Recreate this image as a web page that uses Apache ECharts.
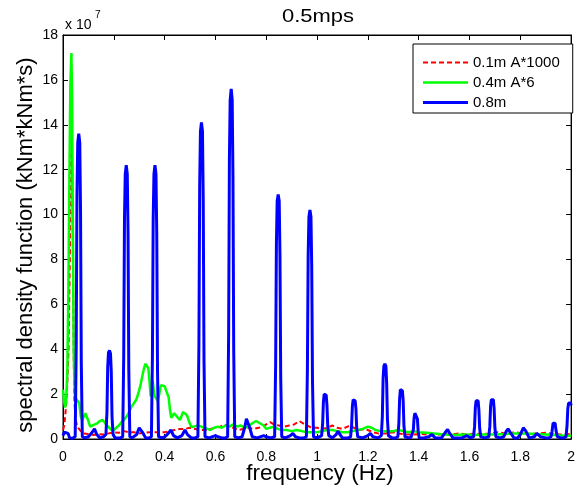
<!DOCTYPE html>
<html>
<head>
<meta charset="utf-8">
<script src="https://cdn.jsdelivr.net/npm/echarts@6/dist/echarts.min.js"></script>
<style>
  html, body { margin: 0; padding: 0; background: #fff; }
  #chart { width: 578px; height: 490px; }
</style>
</head>
<body>
<div id="chart"></div>
<script>
// Spectral density values are in units of 1e7 (kNm*kNm*s); frequency in Hz.
const seriesNames = ['0.1m A*1000', '0.4m A*6', '0.8m'];

const red01m = [
  [0, 0.4], [0.005, 0.6], [0.01, 1.2], [0.016, 2.2], [0.022, 4], [0.027, 8], [0.031, 12],
  [0.035, 13.8], [0.038, 10], [0.041, 5], [0.044, 2], [0.048, 1.0], [0.053, 0.7],
  [0.06, 0.5], [0.07, 0.35], [0.08, 0.25], [0.1, 0.22], [0.12, 0.18], [0.14, 0.22], [0.16, 0.2],
  [0.18, 0.25], [0.2, 0.3], [0.22, 0.28], [0.24, 0.35], [0.26, 0.3], [0.28, 0.3],
  [0.3, 0.25], [0.32, 0.28], [0.34, 0.3], [0.36, 0.3], [0.38, 0.3], [0.4, 0.3],
  [0.42, 0.35], [0.44, 0.4], [0.46, 0.45], [0.48, 0.45], [0.5, 0.5], [0.52, 0.45],
  [0.54, 0.4], [0.56, 0.4], [0.58, 0.45], [0.6, 0.5], [0.62, 0.55], [0.635, 0.65],
  [0.65, 0.55], [0.67, 0.5], [0.69, 0.4], [0.71, 0.45], [0.73, 0.5], [0.75, 0.45],
  [0.77, 0.5], [0.785, 0.55], [0.8, 0.65], [0.815, 0.75], [0.83, 0.65], [0.85, 0.6],
  [0.87, 0.55], [0.89, 0.6], [0.91, 0.65], [0.93, 0.8], [0.945, 0.7], [0.96, 0.6],
  [0.98, 0.5], [1.0, 0.5], [1.02, 0.45], [1.04, 0.5], [1.06, 0.6], [1.08, 0.5],
  [1.1, 0.45], [1.12, 0.55], [1.13, 0.6], [1.145, 0.5], [1.165, 0.4], [1.19, 0.45],
  [1.22, 0.3], [1.24, 0.25], [1.27, 0.25], [1.3, 0.3], [1.32, 0.25], [1.35, 0.2],
  [1.38, 0.2], [1.41, 0.22], [1.44, 0.2], [1.47, 0.2], [1.5, 0.22], [1.53, 0.2],
  [1.56, 0.25], [1.59, 0.2], [1.62, 0.25], [1.65, 0.22], [1.68, 0.25], [1.71, 0.3],
  [1.74, 0.25], [1.78, 0.3], [1.81, 0.25], [1.84, 0.22], [1.87, 0.25], [1.9, 0.28],
  [1.93, 0.22], [1.96, 0.2], [2.0, 0.22]
];

const green04m = [
  [0, 2.2], [0.004, 1.7], [0.008, 1.4], [0.012, 1.6], [0.017, 3], [0.021, 6.5], [0.025, 11.5],
  [0.029, 15.8], [0.033, 17.2], [0.036, 15], [0.039, 9], [0.042, 4], [0.046, 2.0],
  [0.05, 1.8], [0.057, 1.7], [0.064, 1.6], [0.07, 1.0], [0.076, 0.85], [0.082, 1.0],
  [0.088, 1.15], [0.094, 1.15], [0.1, 0.8], [0.107, 0.55], [0.115, 0.6], [0.125, 0.65],
  [0.135, 0.7], [0.145, 0.8], [0.155, 0.85], [0.163, 0.75], [0.172, 0.6], [0.182, 0.5],
  [0.192, 0.4], [0.2, 0.4], [0.21, 0.5], [0.22, 0.6], [0.23, 0.75], [0.24, 0.85],
  [0.25, 1.0], [0.26, 1.2], [0.27, 1.45], [0.28, 1.6], [0.29, 1.8], [0.298, 2.1],
  [0.305, 2.4], [0.312, 2.8], [0.318, 3.1], [0.324, 3.35], [0.33, 3.3], [0.336, 3.15],
  [0.341, 2.5], [0.345, 1.9], [0.349, 2.3], [0.353, 2.6], [0.357, 2.2], [0.361, 1.9],
  [0.367, 1.8], [0.373, 1.7], [0.379, 2.0], [0.385, 2.4], [0.392, 2.45], [0.4, 2.35],
  [0.408, 2.1], [0.416, 1.85], [0.421, 1.3], [0.426, 0.95], [0.432, 1.0], [0.438, 1.15],
  [0.445, 1.2], [0.452, 0.95], [0.46, 0.85], [0.466, 1.0], [0.472, 1.2], [0.478, 1.25],
  [0.484, 1.1], [0.49, 1.0], [0.497, 0.75], [0.505, 0.55], [0.515, 0.55], [0.53, 0.6],
  [0.545, 0.55], [0.555, 0.5], [0.57, 0.45], [0.58, 0.4], [0.595, 0.5], [0.61, 0.55],
  [0.625, 0.5], [0.64, 0.6], [0.655, 0.55], [0.67, 0.65], [0.685, 0.55], [0.7, 0.6],
  [0.715, 0.5], [0.73, 0.55], [0.745, 0.7], [0.76, 0.8], [0.775, 0.7], [0.79, 0.6],
  [0.8, 0.45], [0.815, 0.5], [0.83, 0.55], [0.845, 0.45], [0.86, 0.4], [0.88, 0.4],
  [0.9, 0.35], [0.92, 0.4], [0.94, 0.35], [0.96, 0.3], [0.98, 0.3], [1.0, 0.3],
  [1.02, 0.35], [1.04, 0.4], [1.06, 0.4], [1.08, 0.35], [1.1, 0.3], [1.12, 0.3],
  [1.14, 0.35], [1.16, 0.4], [1.18, 0.45], [1.2, 0.55], [1.215, 0.5], [1.23, 0.4],
  [1.25, 0.35], [1.27, 0.35], [1.3, 0.35], [1.32, 0.4], [1.34, 0.35], [1.36, 0.3],
  [1.38, 0.35], [1.4, 0.3], [1.43, 0.28], [1.46, 0.25], [1.5, 0.2], [1.54, 0.18],
  [1.58, 0.2], [1.62, 0.18], [1.66, 0.2], [1.7, 0.2], [1.74, 0.22], [1.78, 0.25],
  [1.82, 0.25], [1.86, 0.22], [1.9, 0.2], [1.94, 0.18], [1.97, 0.15], [2.0, 0.15]
];

const blue08m = [
  [0, 0.15], [0.005, 0.3], [0.012, 0.35], [0.02, 0.25], [0.026, 0.05], [0.036, 0.03],
  [0.048, 0.1], [0.052, 4.1], [0.055, 10.9], [0.058, 13.2], [0.062, 13.6], [0.066, 13.2], [0.069, 10.2], [0.072, 3.4], [0.076, 0.1],
  [0.085, 0.05], [0.1, 0.1], [0.115, 0.3], [0.124, 0.45], [0.133, 0.2], [0.145, 0.05], [0.16, 0.1],
  [0.169, 0.2], [0.173, 1.2], [0.176, 3.2], [0.179, 3.85], [0.183, 3.95], [0.187, 3.8], [0.19, 3.0], [0.193, 1.0], [0.197, 0.2],
  [0.205, 0.05], [0.225, 0.05],
  [0.235, 0.1], [0.239, 3.7], [0.242, 9.8], [0.245, 11.8], [0.249, 12.2], [0.253, 11.8], [0.256, 9.2], [0.259, 3.1], [0.263, 0.1],
  [0.272, 0.05], [0.29, 0.2], [0.3, 0.5], [0.306, 0.55], [0.313, 0.3], [0.325, 0.05], [0.34, 0.05],
  [0.348, 0.1], [0.352, 3.7], [0.355, 9.8], [0.358, 11.8], [0.362, 12.2], [0.366, 11.8], [0.369, 9.2], [0.372, 3.1], [0.376, 0.1],
  [0.39, 0.05], [0.4, 0.1], [0.41, 0.2], [0.425, 0.4], [0.435, 0.15], [0.45, 0.05], [0.468, 0.15],
  [0.48, 0.4], [0.49, 0.2], [0.505, 0.05], [0.52, 0.05],
  [0.531, 0.1], [0.535, 4.2], [0.538, 11.3], [0.541, 13.7], [0.545, 14.1], [0.549, 13.7], [0.552, 10.6], [0.555, 3.5], [0.559, 0.1],
  [0.575, 0.05], [0.6, 0.15], [0.61, 0.1], [0.625, 0.05], [0.64, 0.05],
  [0.648, 0.1], [0.652, 4.7], [0.655, 12.5], [0.658, 15.1], [0.662, 15.6], [0.666, 15.1], [0.669, 11.7], [0.672, 3.9], [0.676, 0.1],
  [0.69, 0.05], [0.705, 0.1], [0.715, 0.5], [0.722, 0.9], [0.728, 0.85], [0.735, 0.5], [0.745, 0.1],
  [0.765, 0.05], [0.79, 0.15], [0.8, 0.1], [0.818, 0.05],
  [0.833, 0.1], [0.837, 3.3], [0.84, 8.7], [0.843, 10.6], [0.847, 10.9], [0.851, 10.6], [0.854, 8.2], [0.857, 2.7], [0.861, 0.1],
  [0.875, 0.05], [0.895, 0.15], [0.905, 0.25], [0.915, 0.1], [0.93, 0.05], [0.948, 0.05],
  [0.958, 0.1], [0.962, 3.1], [0.965, 8.2], [0.968, 9.9], [0.972, 10.2], [0.976, 9.9], [0.979, 7.7], [0.982, 2.6], [0.986, 0.1],
  [0.998, 0.05], [1.01, 0.1],
  [1.018, 0.15], [1.022, 0.7], [1.025, 1.65], [1.028, 2.0], [1.032, 2.05], [1.036, 1.95], [1.039, 1.5], [1.042, 0.6], [1.046, 0.15],
  [1.06, 0.05], [1.075, 0.2], [1.083, 0.35], [1.09, 0.2], [1.1, 0.05], [1.122, 0.05],
  [1.132, 0.1], [1.136, 0.6], [1.139, 1.45], [1.142, 1.75], [1.146, 1.8], [1.15, 1.7], [1.153, 1.35], [1.156, 0.5], [1.16, 0.1],
  [1.18, 0.05], [1.2, 0.15], [1.21, 0.25], [1.22, 0.1], [1.24, 0.05],
  [1.253, 0.15], [1.257, 1.0], [1.26, 2.7], [1.263, 3.25], [1.267, 3.35], [1.271, 3.25], [1.274, 2.5], [1.277, 0.9], [1.281, 0.15],
  [1.295, 0.05], [1.31, 0.05],
  [1.318, 0.1], [1.322, 0.7], [1.325, 1.8], [1.328, 2.2], [1.332, 2.25], [1.336, 2.15], [1.339, 1.7], [1.342, 0.6], [1.346, 0.1],
  [1.36, 0.05], [1.37, 0.08],
  [1.375, 0.1], [1.379, 0.4], [1.382, 0.95], [1.385, 1.15], [1.388, 1.2], [1.392, 1.15], [1.395, 0.9], [1.398, 0.35], [1.402, 0.05],
  [1.42, 0.05], [1.44, 0.1], [1.452, 0.2], [1.465, 0.05], [1.49, 0.05], [1.505, 0.3], [1.514, 0.42],
  [1.522, 0.25], [1.535, 0.05], [1.57, 0.05], [1.59, 0.15], [1.602, 0.05],
  [1.616, 0.1], [1.62, 0.55], [1.623, 1.4], [1.626, 1.7], [1.63, 1.75], [1.634, 1.7], [1.637, 1.3], [1.64, 0.5], [1.644, 0.1],
  [1.66, 0.05],
  [1.676, 0.1], [1.68, 0.55], [1.683, 1.45], [1.686, 1.75], [1.69, 1.8], [1.694, 1.75], [1.697, 1.35], [1.7, 0.5], [1.704, 0.1],
  [1.72, 0.05], [1.735, 0.1], [1.745, 0.35], [1.752, 0.45], [1.76, 0.3], [1.775, 0.05], [1.79, 0.05],
  [1.8, 0.2], [1.812, 0.5], [1.822, 0.35], [1.835, 0.05], [1.855, 0.1], [1.865, 0.25], [1.872, 0.3],
  [1.88, 0.1], [1.9, 0.05], [1.912, 0.05],
  [1.921, 0.1], [1.925, 0.35], [1.929, 0.7], [1.933, 0.75], [1.937, 0.7], [1.941, 0.35], [1.946, 0.1],
  [1.96, 0.05], [1.972, 0.05],
  [1.98, 0.1], [1.984, 0.6], [1.987, 1.35], [1.99, 1.6], [1.994, 1.65], [1.998, 1.6], [2.0, 1.5]
];

// Legend keys drawn as plain line segments (dashed for the first series).
const legendIcons = [
  'path://M0,0h5v2h-5z M8,0h5v2h-5z M16,0h5v2h-5z M24,0h5v2h-5z M32,0h5v2h-5z M40,0h5v2h-5z',
  'path://M0,0h45v2.4h-45z',
  'path://M0,0h45v2.8h-45z'
];

const FONT = 'Liberation Sans';
const chart = echarts.init(document.getElementById('chart'), null, { renderer: 'canvas' });

const tickStyle = { inside: true, length: 5, lineStyle: { color: '#000', width: 1 } };
const lineAxis = { show: true, onZero: false, lineStyle: { color: '#000', width: 1 } };

chart.setOption({
  animation: false,
  backgroundColor: '#fff',
  grid: {
    left: 63, right: 1, top: 35, bottom: 51,
    show: true, borderColor: '#000', borderWidth: 1, backgroundColor: '#fff'
  },
  legend: {
    data: seriesNames.map((n, i) => ({ name: n, icon: legendIcons[i] })),
    orient: 'vertical',
    left: 413,
    top: 44,
    itemWidth: 45,
    itemHeight: 14,
    itemGap: 5,
    padding: [11, 13, 3, 10],
    borderColor: '#000',
    borderWidth: 1,
    backgroundColor: '#fff',
    textStyle: { fontFamily: FONT, fontSize: 15, color: '#000' }
  },
  xAxis: [
    {
      type: 'value', min: 0, max: 2, interval: 0.2,
      axisLine: lineAxis, axisTick: tickStyle, splitLine: { show: false },
      axisLabel: { fontFamily: FONT, fontSize: 14, color: '#000', margin: 11 }
    },
    {
      type: 'value', position: 'top', min: 0, max: 2, interval: 0.2,
      axisLine: lineAxis, axisTick: tickStyle, splitLine: { show: false },
      axisLabel: { show: false }
    }
  ],
  yAxis: [
    {
      type: 'value', min: 0, max: 18, interval: 2,
      axisLine: lineAxis, axisTick: tickStyle, splitLine: { show: false },
      axisLabel: { fontFamily: FONT, fontSize: 14, color: '#000', margin: 5, padding: [4, 0, 0, 0] }
    },
    {
      type: 'value', position: 'right', min: 0, max: 18, interval: 2,
      axisLine: lineAxis, axisTick: tickStyle, splitLine: { show: false },
      axisLabel: { show: false }
    }
  ],
  graphic: [
    {
      type: 'text', x: 318, y: 17, scaleX: 1.22,
      style: { text: '0.5mps', font: '18px "Liberation Sans"', fill: '#000', align: 'center', verticalAlign: 'middle' }
    },
    {
      type: 'text', x: 320, y: 474,
      style: { text: 'frequency (Hz)', font: '22.5px "Liberation Sans"', fill: '#000', align: 'center', verticalAlign: 'middle' }
    },
    {
      type: 'text', x: 26, y: 245, rotation: Math.PI / 2,
      style: { text: 'spectral density function (kNm*kNm*s)', font: '22px "Liberation Sans"', fill: '#000', align: 'center', verticalAlign: 'middle' }
    },
    {
      type: 'text', x: 65, y: 25,
      style: { text: 'x 10', font: '14px "Liberation Sans"', fill: '#000', verticalAlign: 'middle' }
    },
    {
      type: 'text', x: 95, y: 15,
      style: { text: '7', font: '10px "Liberation Sans"', fill: '#000', verticalAlign: 'middle' }
    }
  ],
  series: [
    {
      name: seriesNames[0], type: 'line', data: red01m, showSymbol: false, symbol: 'none',
      lineStyle: { color: '#ff0000', width: 2, type: [5, 3] }, itemStyle: { color: '#ff0000' },
      z: 2
    },
    {
      name: seriesNames[1], type: 'line', data: green04m, showSymbol: false, symbol: 'none',
      lineStyle: { color: '#00ff00', width: 2.5 }, itemStyle: { color: '#00ff00' },
      z: 3
    },
    {
      name: seriesNames[2], type: 'line', data: blue08m, showSymbol: false, symbol: 'none',
      lineStyle: { color: '#0000ff', width: 3 }, itemStyle: { color: '#0000ff' },
      z: 4
    }
  ]
});
</script>
</body>
</html>
